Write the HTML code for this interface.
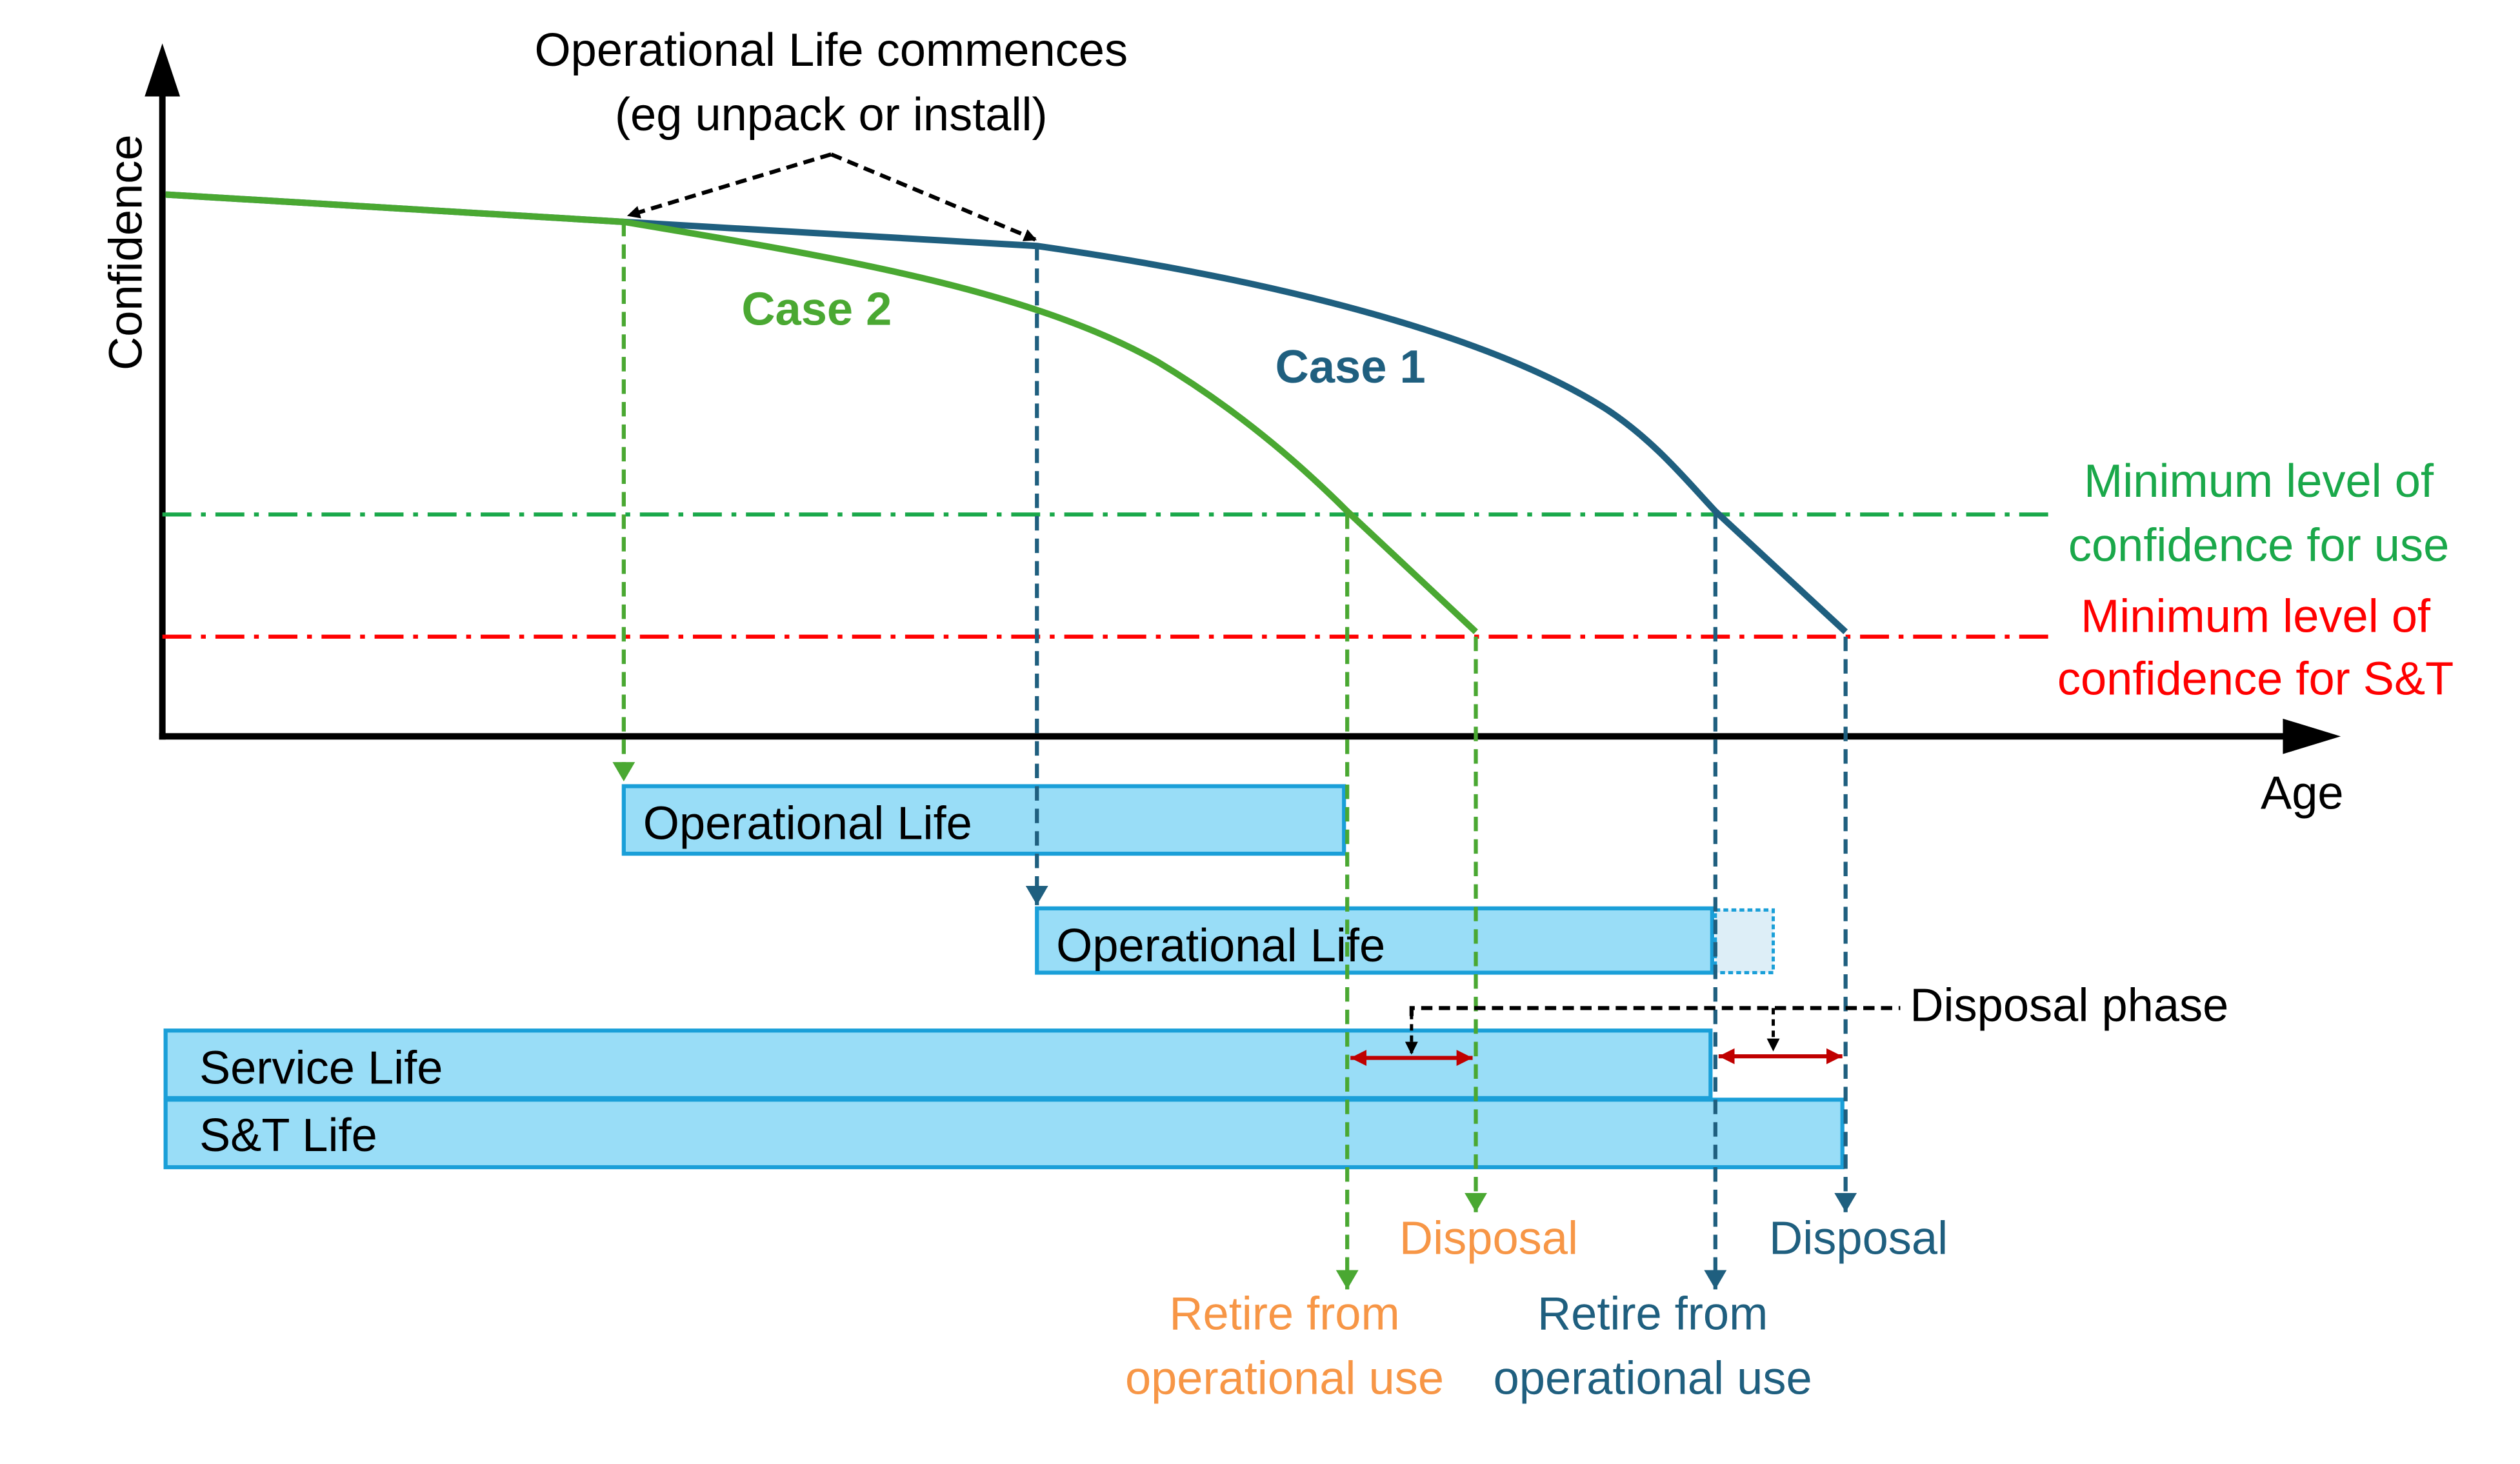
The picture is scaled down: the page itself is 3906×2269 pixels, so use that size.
<!DOCTYPE html>
<html><head><meta charset="utf-8"><style>
html,body{margin:0;padding:0;background:#fff;}
svg{display:block;}
text{font-family:"Liberation Sans",Arial,sans-serif;}
</style></head><body>
<svg width="3906" height="2269" viewBox="0 0 1567.5 910.6" preserveAspectRatio="none" xmlns="http://www.w3.org/2000/svg">
<defs>
<marker id="ak" markerWidth="8" markerHeight="8" refX="7" refY="4" orient="auto" markerUnits="userSpaceOnUse"><path d="M0,0 L8,4 L0,8 z" fill="#000"/></marker>
<marker id="ag" markerWidth="12" markerHeight="14" refX="12" refY="7" orient="auto" markerUnits="userSpaceOnUse"><path d="M0,0 L12,7 L0,14 z" fill="#4aa832"/></marker>
<marker id="ab" markerWidth="12" markerHeight="14" refX="12" refY="7" orient="auto" markerUnits="userSpaceOnUse"><path d="M0,0 L12,7 L0,14 z" fill="#1f5f7f"/></marker>
<marker id="ar" markerWidth="10" markerHeight="10" refX="10" refY="5" orient="auto-start-reverse" markerUnits="userSpaceOnUse"><path d="M0,0 L10,5 L0,10 z" fill="#c00000"/></marker>
</defs>
<line x1="101" y1="460" x2="101" y2="55" stroke="#000" stroke-width="4"/>
<path d="M90,60 L101,27 L112,60 z" fill="#000"/>
<line x1="99" y1="458" x2="1425" y2="458" stroke="#000" stroke-width="4"/>
<path d="M1420,447 L1456,458 L1420,469 z" fill="#000"/>
<text x="88" y="157" font-size="29" text-anchor="middle" transform="rotate(-90 88 157)">Confidence</text>
<text x="1432" y="503" font-size="29" text-anchor="middle">Age</text>
<text x="517" y="41" font-size="29" text-anchor="middle">Operational Life commences</text>
<text x="517" y="81" font-size="29" text-anchor="middle">(eg unpack or install)</text>
<line x1="517" y1="96" x2="391" y2="134" stroke="#000" stroke-width="2.5" stroke-dasharray="7,4" marker-end="url(#ak)"/>
<line x1="517" y1="96" x2="644" y2="149" stroke="#000" stroke-width="2.5" stroke-dasharray="7,4" marker-end="url(#ak)"/>
<line x1="101" y1="320" x2="1275" y2="320" stroke="#1aa84a" stroke-width="2.5" stroke-dasharray="18,6,3,6"/>
<line x1="101" y1="396" x2="1275" y2="396" stroke="#ff0000" stroke-width="2.5" stroke-dasharray="18,6,3,6"/>
<g font-size="29" text-anchor="middle">
<text x="1405" y="309" fill="#1aa84a">Minimum level of</text>
<text x="1405" y="349" fill="#1aa84a">confidence for use</text>
<text x="1403" y="393" fill="#ff0000">Minimum level of</text>
<text x="1403" y="432" fill="#ff0000">confidence for S&amp;T</text>
</g>
<path d="M103,121 L388,138 L645,153 C800,175 930,210 1000,255 C1030,275 1050,300 1067,318 L1148,393" fill="none" stroke="#1f5f7f" stroke-width="4"/>
<path d="M103,121 L388,138 C520,160 640,180 720,225 C770,255 810,290 838,318 L918,393" fill="none" stroke="#4aa832" stroke-width="4"/>
<text x="508" y="202" font-size="29" font-weight="bold" fill="#4aa832" text-anchor="middle">Case 2</text>
<text x="840" y="238" font-size="29" font-weight="bold" fill="#1f5f7f" text-anchor="middle">Case 1</text>
<g fill="#99ddf7" stroke="#1a9fd8" stroke-width="2.5">
<rect x="388" y="489" width="448" height="42"/>
<rect x="645" y="565" width="420" height="40"/>
<rect x="103" y="641" width="961" height="42"/>
<rect x="103" y="684" width="1043" height="42"/>
</g>
<rect x="1067" y="566" width="36" height="39" fill="#ddeef7" stroke="#1a9fd8" stroke-width="2" stroke-dasharray="3,2"/>
<g font-size="29">
<text x="400" y="522">Operational Life</text>
<text x="657" y="598">Operational Life</text>
<text x="124" y="674">Service Life</text>
<text x="124" y="716">S&amp;T Life</text>
</g>
<g stroke-width="2.5" stroke-dasharray="9,5" fill="none">
<line x1="388" y1="138" x2="388" y2="486" stroke="#4aa832" marker-end="url(#ag)"/>
<line x1="645" y1="153" x2="645" y2="563" stroke="#1f5f7f" marker-end="url(#ab)"/>
<line x1="838" y1="320" x2="838" y2="802" stroke="#4aa832" marker-end="url(#ag)"/>
<line x1="918" y1="396" x2="918" y2="754" stroke="#4aa832" marker-end="url(#ag)"/>
<line x1="1067" y1="320" x2="1067" y2="802" stroke="#1f5f7f" marker-end="url(#ab)"/>
<line x1="1148" y1="396" x2="1148" y2="754" stroke="#1f5f7f" marker-end="url(#ab)"/>
</g>
<polyline points="878,632 878,627 1182,627" fill="none" stroke="#000" stroke-width="2.5" stroke-dasharray="7,4"/>
<line x1="878" y1="630" x2="878" y2="655" stroke="#000" stroke-width="2" stroke-dasharray="4,3" marker-end="url(#ak)"/>
<line x1="1103" y1="627" x2="1103" y2="653" stroke="#000" stroke-width="2" stroke-dasharray="4,3" marker-end="url(#ak)"/>
<text x="1188" y="635" font-size="29">Disposal phase</text>
<line x1="840" y1="658" x2="916" y2="658" stroke="#c00000" stroke-width="2.5" marker-start="url(#ar)" marker-end="url(#ar)"/>
<line x1="1069" y1="657" x2="1146" y2="657" stroke="#c00000" stroke-width="2.5" marker-start="url(#ar)" marker-end="url(#ar)"/>
<g font-size="29" text-anchor="middle">
<text x="926" y="780" fill="#f79646">Disposal</text>
<text x="799" y="827" fill="#f79646">Retire from</text>
<text x="799" y="867" fill="#f79646">operational use</text>
<text x="1156" y="780" fill="#1f5f7f">Disposal</text>
<text x="1028" y="827" fill="#1f5f7f">Retire from</text>
<text x="1028" y="867" fill="#1f5f7f">operational use</text>
</g>
</svg>
</body></html>
